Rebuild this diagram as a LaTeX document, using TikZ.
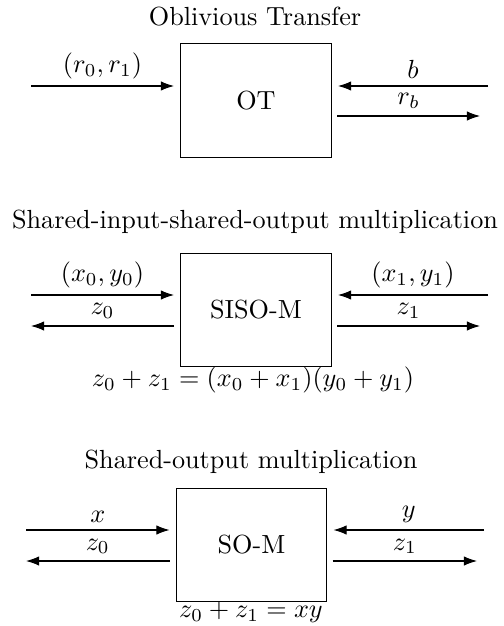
\documentclass[tikz,border=0pt]{standalone}
\usetikzlibrary{arrows.meta}
\begin{document}
\begin{tikzpicture}[x=0.3817pt,y=-0.3817pt,
  blk/.style={draw,minimum width=57.6pt,minimum height=43.3pt,inner sep=0pt},
  arr/.style={-{Latex[length=5pt,width=3.6pt]}},
  lbl/.style={midway,above,inner sep=2.5pt},
  ttl/.style={inner sep=0pt},
  eqn/.style={inner sep=0pt}]
\useasboundingbox (0,0) rectangle (503,626);
% ---------- OT ----------
\node[ttl] (t1) at (255,17) {Oblivious Transfer};
\node[blk] (ot) at (256,100.5) {OT};
\coordinate (otl) at (31,86);
\coordinate (otr) at (488,86);
\coordinate (otro) at (480,116);
\draw[arr] (otl) -- ([xshift=-2.3pt]otl -| ot.west) node[lbl] {$(r_0,r_1)$};
\draw[arr] (otr) -- ([xshift=2.3pt]otr -| ot.east) node[lbl] {$b$};
\draw[arr] ([xshift=2pt]otro -| ot.east) -- (otro) node[lbl] {$r_b$};
% ---------- SISO-M ----------
\node[ttl] (t2) at (255,222) {Shared-input-shared-output multiplication};
\node[blk] (siso) at (256,310) {SISO-M};
\coordinate (sl1) at (31,295);
\coordinate (sl2) at (31,326);
\coordinate (sr1) at (488,295);
\coordinate (sr2) at (480,326);
\draw[arr] (sl1) -- ([xshift=-2.3pt]sl1 -| siso.west) node[lbl] {$(x_0,y_0)$};
\draw[arr] ([xshift=-2.3pt]sl2 -| siso.west) -- (sl2) node[lbl] {$z_0$};
\draw[arr] (sr1) -- ([xshift=2.3pt]sr1 -| siso.east) node[lbl] {$(x_1,y_1)$};
\draw[arr] ([xshift=2pt]sr2 -| siso.east) -- (sr2) node[lbl] {$z_1$};
\node[eqn] (e2) at (253,380) {$z_0+z_1=(x_0+x_1)(y_0+y_1)$};
% ---------- SO-M ----------
\node[ttl] (t3) at (251,462) {Shared-output multiplication};
\node[blk] (som) at (251.5,545) {SO-M};
\coordinate (ol1) at (26,530);
\coordinate (ol2) at (26,561);
\coordinate (or1) at (484,530);
\coordinate (or2) at (477,561);
\draw[arr] (ol1) -- ([xshift=-2.3pt]ol1 -| som.west) node[lbl] {$x$};
\draw[arr] ([xshift=-2.3pt]ol2 -| som.west) -- (ol2) node[lbl] {$z_0$};
\draw[arr] (or1) -- ([xshift=2.3pt]or1 -| som.east) node[lbl] {$y$};
\draw[arr] ([xshift=2pt]or2 -| som.east) -- (or2) node[lbl] {$z_1$};
\node[eqn] (e3) at (251,612) {$z_0+z_1=xy$};
\end{tikzpicture}
\end{document}
